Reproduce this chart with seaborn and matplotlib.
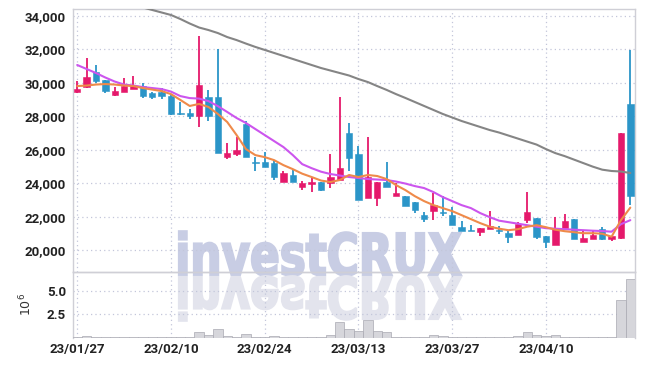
import numpy as np
import pandas as pd
import matplotlib
matplotlib.use("Agg")
import matplotlib.pyplot as plt
import seaborn as sns
from matplotlib.textpath import TextPath
from matplotlib.patches import PathPatch
from matplotlib.font_manager import FontProperties
from matplotlib.transforms import Affine2D
from matplotlib.ticker import FuncFormatter

# ---------------- data ----------------
tick_labels = ["23/01/27", "23/02/10", "23/02/24", "23/03/13", "23/03/27", "23/04/10"]

opens = [29450, 29730, 30630, 30170, 29270, 29470, 29610, 29810, 29410, 29470,
         29210, 28170, 28180, 28040, 29180, 29170, 25580, 25740, 27520, 25260,
         25250, 25190, 24090, 24490, 23790, 23930, 24090, 23990, 24190, 26980,
         25740, 23090, 23090, 24090, 23230, 23230, 22890, 22090, 22350, 22290,
         22090, 21390, 21230, 21090, 21270, 21230, 21030, 20910, 21790, 21890,
         20870, 20330, 21330, 21850, 20510, 20690, 21270, 20690, 20700, 28730]
closes = [29650, 30370, 30110, 29530, 29490, 29810, 29810, 29210, 29170, 29210,
          28130, 28130, 28040, 29870, 28000, 25780, 25780, 25980, 25580, 25220,
          24990, 24390, 24590, 24090, 23990, 24090, 23590, 24390, 24890, 25480,
          22990, 24390, 24090, 23790, 23430, 22630, 22390, 21850, 22690, 22190,
          21530, 21150, 21130, 21310, 21430, 21150, 20790, 21550, 22290, 20790,
          20490, 21330, 21730, 20690, 20720, 20900, 20690, 20840, 26980, 23230]
highs = [30100, 31470, 31070, 30170, 29730, 30270, 30390, 30010, 29470, 29710,
         29310, 28870, 28420, 32800, 29590, 32000, 26420, 26780, 27720, 25580,
         25880, 25380, 24740, 24780, 24130, 24390, 24090, 25720, 29170, 27620,
         26240, 26780, 24090, 25280, 24030, 23230, 22890, 22290, 23430, 23230,
         22560, 21750, 21530, 21310, 22330, 21470, 21230, 21690, 23490, 21890,
         20870, 21950, 22130, 21850, 21230, 21190, 21390, 20840, 26980, 31970]
lows = [29400, 29700, 30010, 29410, 29230, 29450, 29610, 29110, 29010, 29010,
        28070, 28100, 27820, 27340, 27740, 25780, 25420, 25620, 25580, 24730,
        24990, 24190, 24090, 24090, 23590, 23490, 23560, 23690, 24190, 24740,
        22990, 23090, 22630, 23790, 23230, 22630, 22190, 21690, 21790, 22030,
        21530, 21150, 21130, 20840, 21270, 20960, 20430, 20910, 21630, 20690,
        20100, 20330, 21330, 20690, 20510, 20690, 20610, 20570, 20690, 22690]

ma_short = [29810, 29840, 29900, 29930, 29900, 29840, 29810, 29690, 29600, 29510,
            29330, 28980, 28620, 28740, 28560, 28140, 27660, 26880, 26040, 25680,
            25560, 25380, 25080, 24840, 24570, 24370, 24160, 24070, 24190, 24490,
            24370, 24490, 24430, 24250, 23890, 23590, 23230, 22930, 22690, 22510,
            22330, 22090, 21850, 21610, 21400, 21280, 21190, 21250, 21400, 21490,
            21370, 21220, 21130, 21070, 21010, 21010, 20980, 20800, 21790, 22540]
ma_mid = [31070, 30830, 30590, 30320, 30080, 29900, 29840, 29750, 29690, 29630,
          29480, 29210, 29090, 29060, 28910, 28610, 28260, 27900, 27600, 27240,
          26880, 26520, 26160, 25680, 25140, 24900, 24690, 24550, 24460, 24370,
          24310, 24250, 24220, 24190, 24100, 23980, 23830, 23710, 23470, 23170,
          22930, 22690, 22510, 22210, 21970, 21760, 21670, 21580, 21490, 21400,
          21310, 21280, 21250, 21220, 21190, 21160, 21140, 21100, 21550, 21790]
ma_long = [35730, 35560, 35380, 35200, 35020, 34840, 34660, 34510, 34360, 34210,
           34060, 33820, 33550, 33310, 33160, 32980, 32740, 32560, 32350, 32150,
           31970, 31790, 31610, 31430, 31250, 31070, 30890, 30740, 30590, 30440,
           30230, 30050, 29810, 29580, 29330, 29100, 28860, 28620, 28380, 28140,
           27930, 27720, 27540, 27360, 27180, 27030, 26850, 26670, 26490, 26310,
           26040, 25800, 25620, 25410, 25200, 24990, 24810, 24730, 24700, 24610]

volume = [50000, 200000, 40000, 40000, 30000, 40000, 30000, 40000, 30000, 40000,
          40000, 30000, 40000, 550000, 250000, 950000, 120000, 80000, 400000, 100000,
          100000, 120000, 100000, 50000, 50000, 40000, 50000, 300000, 1650000, 950000,
          650000, 1850000, 650000, 550000, 100000, 100000, 100000, 80000, 300000, 200000,
          100000, 100000, 50000, 100000, 100000, 50000, 100000, 120000, 550000, 250000,
          120000, 300000, 100000, 100000, 30000, 40000, 100000, 40000, 4000000, 6300000]

# ---------------- styling ----------------
sns.set_theme(style="white")
plt.rcParams["font.family"] = ["Roboto", "DejaVu Sans"]

UP = "#E5196B"
DOWN = "#2B95C8"
GRID = "#c3c6da"
SPINE = "#cfcfd6"

df = pd.DataFrame({"i": np.arange(len(opens)), "open": opens, "close": closes,
                   "high": highs, "low": lows, "ma_s": ma_short, "ma_m": ma_mid,
                   "ma_l": ma_long, "vol": volume})
df["up"] = df["close"] >= df["open"]
df["color"] = np.where(df["up"], UP, DOWN)
df["body_lo"] = df[["open", "close"]].min(axis=1)
df["body_h"] = (df["close"] - df["open"]).abs().clip(lower=70)

W, H = 645, 366
fig = plt.figure(figsize=(W / 100, H / 100), dpi=100, facecolor="white")
L, R = 73, 635
T, M, B = 9.3, 272, 337.5
ax = fig.add_axes([L / W, (H - M) / H, (R - L) / W, (M - T) / H])
axv = fig.add_axes([L / W, (H - B) / H, (R - L) / W, (B - M) / H], sharex=ax)
for a in (ax, axv):
    a.set_facecolor("none")

# watermark "investCRUX" with reflection
fp = FontProperties(family="DejaVu Sans", weight="bold")
tp = TextPath((0, 0), "investCRUX", size=1, prop=fp)
bb = tp.get_extents()
x0, x1 = 179, 461
base = H - 275
cap = 42
sx = (x1 - x0) / (bb.x1 - bb.x0)
sy = cap / 0.73
tr_main = Affine2D().translate(-bb.x0, 0).scale(sx / W, sy / H).translate(x0 / W, base / H) + fig.transFigure
tr_refl = Affine2D().translate(-bb.x0, 0).scale(sx / W, -sy / H).translate(x0 / W, (base - 2) / H) + fig.transFigure
fig.add_artist(PathPatch(tp, transform=tr_main, facecolor="#c8cde4", edgecolor="#c8cde4",
                         linewidth=1.6, zorder=-1))
fig.add_artist(PathPatch(tp, transform=tr_refl, facecolor="#e3e4ed", edgecolor="#e3e4ed",
                         linewidth=1.6, zorder=-1))

# candles
ax.vlines(df["i"], df["low"], df["high"], colors=df["color"], lw=1.3, zorder=3)
ax.bar(df["i"], df["body_h"], bottom=df["body_lo"], width=0.68, color=df["color"],
       edgecolor=df["color"], linewidth=0.4, zorder=4)

# moving averages
sns.lineplot(data=df, x="i", y="ma_l", ax=ax, color="#858585", lw=1.5, zorder=5)
sns.lineplot(data=df, x="i", y="ma_m", ax=ax, color="#cc55ee", lw=1.5, zorder=5)
sns.lineplot(data=df, x="i", y="ma_s", ax=ax, color="#ef8a4a", lw=1.5, zorder=6)

ax.set_xlim(-0.45, 59.5)
ax.set_ylim(18690, 34400)
ax.set_yticks(np.arange(20000, 34001, 2000))
ax.yaxis.set_major_formatter(FuncFormatter(lambda v, p: f"{int(v):,}"))
ax.set_xlabel("")
ax.set_ylabel("")

# volume
axv.bar(df["i"], df["vol"], width=1.0, color="#d6d6db", edgecolor="#a9a9b2", linewidth=0.5, zorder=3)
axv.set_ylim(0, 7.0e6)
axv.set_yticks([2.5e6, 5.0e6])
axv.yaxis.set_major_formatter(FuncFormatter(lambda v, p: f"{v / 1e6:.1f}"))
axv.set_ylabel(r"$10^6$", fontsize=9, color="#333333", labelpad=9, family="DejaVu Sans")
axv.set_xticks(np.arange(len(tick_labels)) * 10)
axv.set_xticklabels(tick_labels)
axv.set_xlabel("")

for a in (ax, axv):
    a.grid(True, ls=(0, (1, 2.5)), color=GRID, lw=0.9, zorder=0)
    a.tick_params(length=0, labelsize=9.5, labelcolor="#222222", pad=5)
    for lab in a.get_yticklabels() + a.get_xticklabels():
        lab.set_fontweight("bold")
    for s in a.spines.values():
        s.set_color(SPINE)
        s.set_linewidth(1.0)
ax.tick_params(axis="x", labelbottom=False)
axv.tick_params(axis="x", pad=4)
axv.spines["bottom"].set_visible(False)

fig.savefig("out.png", dpi=100, facecolor="white")
